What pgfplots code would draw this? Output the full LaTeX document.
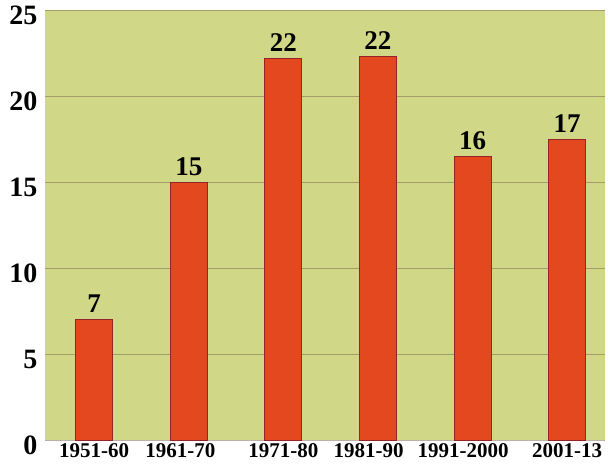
\documentclass[border=0pt]{standalone}
\usepackage{fontspec}
\setmainfont{Liberation Serif}
\usepackage{pgfplots}
\pgfplotsset{compat=1.18}
\definecolor{bgfill}{RGB}{208,215,134}
\definecolor{barfill}{RGB}{228,72,30}
\definecolor{baredge}{RGB}{150,35,40}
\definecolor{gridc}{RGB}{120,100,80}
\begin{document}
\begin{tikzpicture}
    \begin{axis}[
        scale only axis,
        width=560pt,
        height=430pt,
        xmin=-0.52, xmax=5.4,
        ymin=0, ymax=25,
        axis line style={draw=none},
        axis background/.style={fill=bgfill},
        major tick length=0pt,
        xtick={0,0.91,2,2.9,3.9,5},
        xticklabels={1951-60, 1961-70, 1971-80, 1981-90, 1991-2000, 2001-13},
        ytick={0,5,10,15,20,25},
        ymajorgrids,
        grid style={gridc, line width=0.6pt, opacity=0.5},
        /pgf/number format/assume math mode=true,
        xticklabel style={font=\fontsize{21}{23}\selectfont\bfseries, yshift=0pt},
        yticklabel style={font=\fontsize{28}{30}\selectfont\bfseries, yshift=-5pt, xshift=-4pt},
        ybar,
        bar width=37pt,
        nodes near coords,
        point meta=explicit symbolic,
        every node near coord/.append style={font=\fontsize{27}{29}\selectfont\bfseries, yshift=3pt},
    ]
    \addplot[fill=barfill, draw=baredge, line width=0.8pt] coordinates {
        (0,7) [7]
        (1,15) [15]
        (2,22.2) [22]
        (3,22.3) [22]
        (4,16.5) [16]
        (5,17.5) [17]
    };
    \end{axis}
    \path ([xshift=-45pt,yshift=10pt]current axis.north west)
        rectangle ([xshift=3pt,yshift=-23pt]current axis.south east);
\end{tikzpicture}
\end{document}
